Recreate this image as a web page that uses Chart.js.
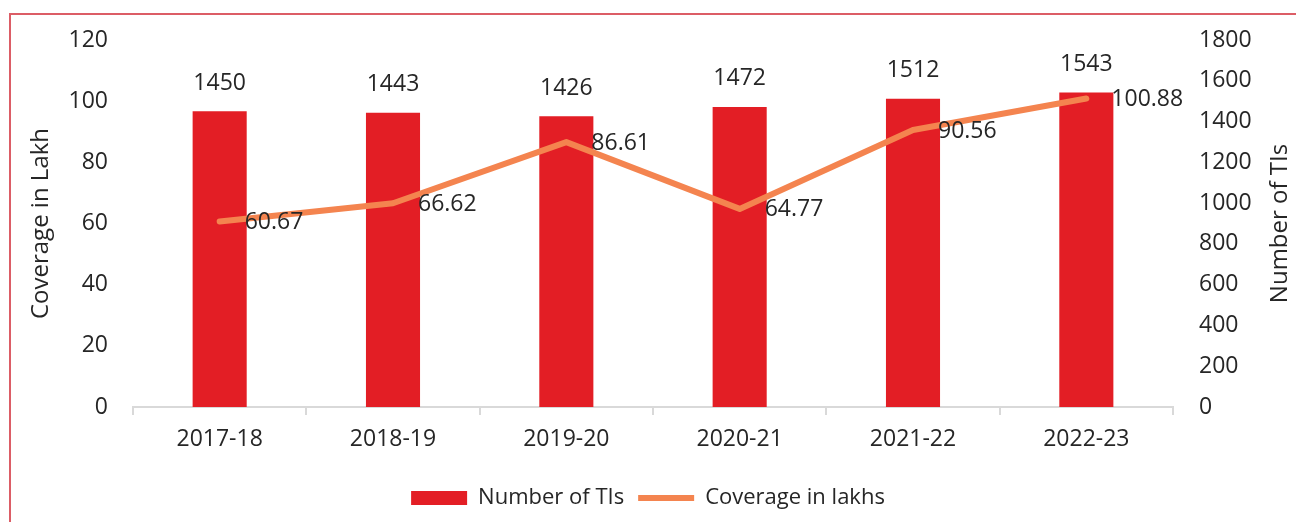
<!DOCTYPE html>
<html>
<head>
<meta charset="utf-8">
<script src="https://cdn.jsdelivr.net/npm/chart.js@4"></script>
<style>
  body { margin: 0; background: #fff; }
  #wrap { position: relative; width: 1296px; height: 522px; overflow: hidden; }
  #frame { position: absolute; left: 9px; top: 13px; width: 1400px; height: 600px;
           border-left: 2px solid #dc5d66; border-top: 2px solid #dc5d66; }
  canvas { position: absolute; left: 0; top: 0; }
</style>
</head>
<body>
<div id="wrap">
  <div id="frame"></div>
  <canvas id="chart" width="1296" height="522"></canvas>
</div>
<script>
// Daten
const years = ['2017-18', '2018-19', '2019-20', '2020-21', '2021-22', '2022-23'];
const numberOfTIs = [1450, 1443, 1426, 1472, 1512, 1543];
const coverageLakhs = [60.67, 66.62, 86.61, 64.77, 90.56, 100.88];

const leftTicks = [0, 20, 40, 60, 80, 100, 120];
const rightTicks = [0, 200, 400, 600, 800, 1000, 1200, 1400, 1600, 1800];

const textColor = '#262626';
const fontFamily = "'Open Sans', sans-serif";

Chart.defaults.font.family = fontFamily;
Chart.defaults.font.size = 23;
Chart.defaults.color = textColor;

// Werte an Balken und Linie schreiben
const valueLabels = {
    id: 'valueLabels',
    afterDatasetsDraw(chart) {
        const ctx = chart.ctx;
        ctx.save();
        ctx.font = '23px ' + fontFamily;
        ctx.fillStyle = textColor;
        ctx.textBaseline = 'middle';

        const barMeta = chart.getDatasetMeta(0);
        ctx.textAlign = 'center';
        barMeta.data.forEach((bar, i) => {
            ctx.fillText(String(numberOfTIs[i]), bar.x, bar.y - 28);
        });

        const lineMeta = chart.getDatasetMeta(1);
        ctx.textAlign = 'left';
        lineMeta.data.forEach((pt, i) => {
            ctx.fillText(coverageLakhs[i].toFixed(2), pt.x + 25, pt.y + 1);
        });
        ctx.restore();
    }
};

// Titel der rechten Achse (von unten nach oben gelesen)
const rightTitle = {
    id: 'rightTitle',
    afterDraw(chart) {
        const ctx = chart.ctx;
        const area = chart.chartArea;
        ctx.save();
        ctx.translate(1280, (area.top + area.bottom) / 2);
        ctx.rotate(-Math.PI / 2);
        ctx.font = '24px ' + fontFamily;
        ctx.fillStyle = textColor;
        ctx.textAlign = 'center';
        ctx.textBaseline = 'middle';
        ctx.fillText('Number of TIs', 0, 0);
        ctx.restore();
    }
};

const ctx = document.getElementById('chart').getContext('2d');
const chart = new Chart(ctx, {
    type: 'bar',
    data: {
        labels: years,
        datasets: [{
            type: 'bar',
            label: 'Number of TIs',
            data: numberOfTIs,
            yAxisID: 'y1',
            backgroundColor: '#e31e25',
            borderWidth: 0,
            barPercentage: 0.312,
            categoryPercentage: 1,
            pointStyle: 'rect',
            order: 1
        }, {
            type: 'line',
            label: 'Coverage in lakhs',
            data: coverageLakhs,
            yAxisID: 'y',
            borderColor: '#f4844f',
            backgroundColor: '#f4844f',
            borderWidth: 6,
            borderCapStyle: 'round',
            borderJoinStyle: 'round',
            pointRadius: 0,
            pointStyle: 'line',
            tension: 0,
            order: 0
        }]
    },
    options: {
        responsive: false,
        animation: false,
        layout: { padding: { top: 40, left: 0, right: 0, bottom: 3 } },
        plugins: {
            tooltip: { enabled: false },
            legend: {
                position: 'bottom',
                labels: {
                    usePointStyle: true,
                    pointStyleWidth: 56,
                    boxHeight: 14,
                    padding: 14,
                    font: { size: 22 },
                    color: textColor,
                    sort: (a, b) => a.datasetIndex - b.datasetIndex
                }
            }
        },
        scales: {
            x: {
                grid: {
                    display: true,
                    drawOnChartArea: false,
                    drawTicks: true,
                    tickLength: 8,
                    color: '#d9d9d9',
                    lineWidth: 2,
                    offset: true
                },
                border: { display: true, color: '#d9d9d9', width: 2 },
                ticks: { padding: 11, maxRotation: 0 },
                afterFit(scale) { scale.height = 66; }
            },
            y: {
                position: 'left',
                min: 0,
                max: 120,
                afterBuildTicks(scale) { scale.ticks = leftTicks.map(v => ({ value: v })); },
                grid: { display: false, drawTicks: false },
                border: { display: false },
                ticks: { padding: 25, callback: v => String(v) },
                title: {
                    display: true,
                    text: 'Coverage in Lakh',
                    font: { size: 24 },
                    color: textColor,
                    padding: { top: 27, bottom: 0 }
                },
                afterFit(scale) { scale.width = 133; }
            },
            y1: {
                position: 'right',
                min: 0,
                max: 1800,
                afterBuildTicks(scale) { scale.ticks = rightTicks.map(v => ({ value: v })); },
                grid: { display: false, drawTicks: false },
                border: { display: false },
                ticks: { padding: 26, callback: v => String(v) },
                afterFit(scale) { scale.width = 123; }
            }
        }
    },
    plugins: [valueLabels, rightTitle]
});
</script>
</body>
</html>
